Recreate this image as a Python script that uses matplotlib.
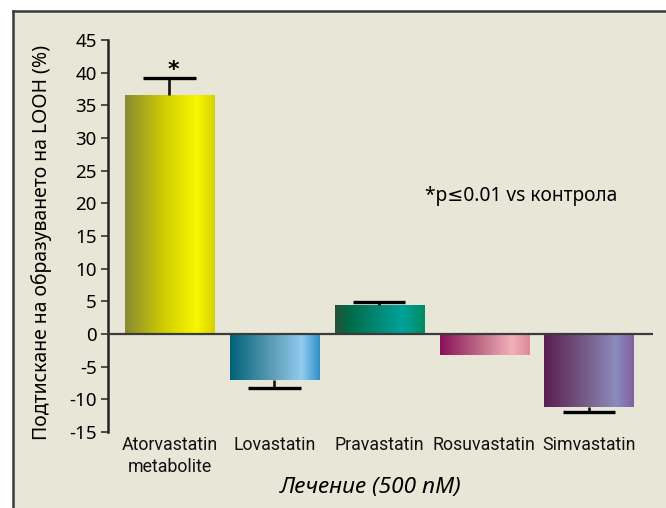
import numpy as np
import matplotlib
matplotlib.use("Agg")
import matplotlib.pyplot as plt
from matplotlib.colors import LinearSegmentedColormap
from matplotlib.patches import Rectangle
from matplotlib.lines import Line2D

# ---- data ----
categories = ["Atorvastatin\nmetabolite", "Lovastatin", "Pravastatin", "Rosuvastatin", "Simvastatin"]
values = [36.6, -7.0, 4.4, -3.2, -11.2]
errors = [2.6, 1.2, 0.5, 0.0, 0.7]
yticks = [-15, -10, -5, 0, 5, 10, 15, 20, 25, 30, 35, 40, 45]
ylabel = "Подтискане на образуването на LOOH (%)"
xlabel = "Лечение (500 nM)"
note = "*p≤0.01 vs контрола"

gradients = [
    [(0.0, "#8a8a32"), (0.45, "#d2cf00"), (0.8, "#f8f800"), (1.0, "#d6d000")],
    [(0.0, "#00627a"), (0.45, "#5a9ab4"), (0.8, "#92ccf0"), (1.0, "#3090c8")],
    [(0.0, "#2a5038"), (0.15, "#006a48"), (0.75, "#00a29a"), (1.0, "#008a62")],
    [(0.0, "#8a1058"), (0.45, "#c06c88"), (0.8, "#f2b2ba"), (1.0, "#de8898")],
    [(0.0, "#5a1e52"), (0.45, "#765a86"), (0.8, "#8a8cbe"), (1.0, "#8060a2")],
]

bg = "#e8e7d7"
fig = plt.figure(figsize=(6.66, 5.08), dpi=100)
fig.patch.set_facecolor("white")

# background panel with left/top border
fig.patches.append(Rectangle((13/666, 0), 1, 1 - 10.5/508, transform=fig.transFigure,
                             facecolor=bg, edgecolor="none", zorder=-2))
fig.lines.append(Line2D([13/666, 13/666], [0, 1 - 10.5/508], transform=fig.transFigure,
                        color="#3a3a3a", lw=1.8, zorder=-1))
fig.lines.append(Line2D([13/666, 1], [1 - 10.5/508, 1 - 10.5/508], transform=fig.transFigure,
                        color="#3a3a3a", lw=1.8, zorder=-1))

ax = fig.add_axes([108/666, 76/508, 545/666, 392/508])
ax.set_zorder(2)
ax.set_facecolor("none")
x = np.arange(len(categories))
width = 0.85
bars = ax.bar(x, values, width=width, color="none", edgecolor="none", zorder=2)

grad = np.linspace(0, 1, 256).reshape(1, -1)
for b, g in zip(bars, gradients):
    cmap = LinearSegmentedColormap.from_list("g", g)
    x0, y0 = b.get_x(), b.get_y()
    w, h = b.get_width(), b.get_height()
    ylo, yhi = min(y0, y0 + h), max(y0, y0 + h)
    im = ax.imshow(grad, cmap=cmap, aspect="auto", extent=[x0, x0 + w, ylo, yhi],
                   interpolation="bicubic", zorder=2)
    im.set_clip_path(b)

cap_half = 0.25
for xi, v, e in zip(x, values, errors):
    if e <= 0:
        continue
    end = v + e if v > 0 else v - e
    ax.vlines(xi, v, end, color="#111111", lw=1.9, zorder=3)
    ax.hlines(end, xi - cap_half, xi + cap_half, color="black", lw=2.4, zorder=3)

ax.axhline(0, color="#3a3a3a", lw=1.6, zorder=4)

ax.set_xlim(-0.586, 4.61)
ax.set_ylim(-15, 45)
ax.set_yticks(yticks)
ax.set_yticklabels([str(t) for t in yticks], fontsize=13.5, family="Noto Sans")
ax.tick_params(axis="y", direction="out", length=5, width=1.2, color="#333333", pad=3)
ax.tick_params(axis="x", length=0, pad=0)
ax.set_xticks(x)
ax.set_xticklabels([])
for xi, c in zip(x, categories):
    ax.text(xi, -15.6, c, ha="center", va="top", fontsize=12.8,
            family=["Roboto", "DejaVu Sans"], linespacing=1.3, color="#111111")

for s in ["top", "right", "bottom"]:
    ax.spines[s].set_visible(False)
ax.spines["left"].set_linewidth(1.8)
ax.spines["left"].set_color("#222222")

ax.text(0.04, 40.4, "*", ha="center", va="center", fontsize=16, fontweight="bold", zorder=5)
fig.text(521/666, 1 - 196/508, note, ha="center", va="center", fontsize=13.8,
         family=["Noto Sans", "DejaVu Sans"])
fig.text(42/666, 1 - 242/508, ylabel, ha="center", va="center", rotation=90,
         fontsize=14.0, family="Noto Sans")
fig.text(371/666, 1 - 488/508, xlabel, ha="center", va="center", fontsize=16.3,
         family="Noto Sans", style="italic")

fig.savefig("out.png", dpi=100, facecolor="white")
